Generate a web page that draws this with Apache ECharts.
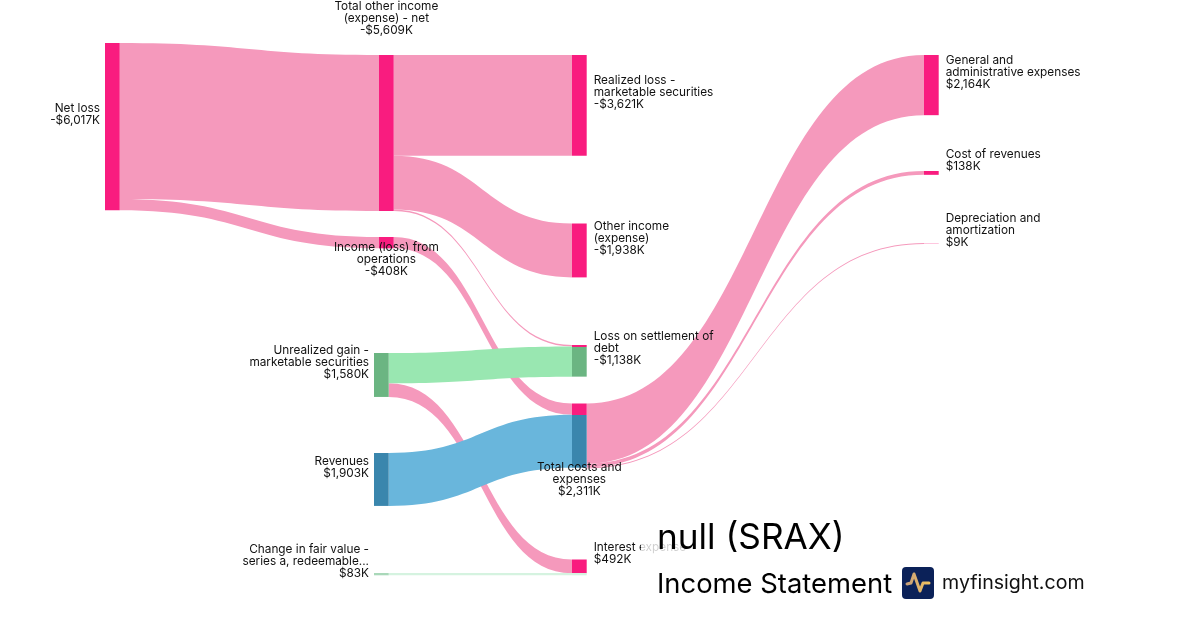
<!DOCTYPE html>
<html>
<head>
<meta charset="utf-8">
<title>SRAX income statement</title>
<style>html,body{margin:0;padding:0;background:#fff}#chart{width:1200px;height:630px}</style>
<script src="https://cdn.jsdelivr.net/npm/echarts@6/dist/echarts.min.js"></script>
</head>
<body>
<div id="chart"></div>
<script>
// nodes, listed top to bottom inside each column so the links stack in the right order
const NODE_NAMES = [
  'Net loss',
  'Total other income (expense) - net', 'Income (loss) from operations',
  'Unrealized gain - marketable securities', 'Revenues', 'Change in fair value - series a, redeemable...',
  'Realized loss - marketable securities', 'Other income (expense)', 'Loss on settlement of debt',
  'Total costs and expenses', 'Interest expense', 'Change in fair value sink',
  'General and administrative expenses', 'Cost of revenues', 'Depreciation and amortization',
];
const NODE_TEXT = [
  'Net loss\n-$6,017K',
  'Total other income\n(expense) - net\n-$5,609K', 'Income (loss) from\noperations\n-$408K',
  'Unrealized gain -\nmarketable securities\n$1,580K', 'Revenues\n$1,903K', 'Change in fair value -\nseries a, redeemable...\n$83K',
  'Realized loss -\nmarketable securities\n-$3,621K', 'Other income\n(expense)\n-$1,938K', 'Loss on settlement of\ndebt\n-$1,138K',
  'Total costs and\nexpenses\n$2,311K', 'Interest expense\n$492K', '',
  'General and\nadministrative expenses\n$2,164K', 'Cost of revenues\n$138K', 'Depreciation and\namortization\n$9K',
];
const NODE_DEPTH = [0, 1, 1, 1, 1, 1, 2, 2, 2, 2, 2, 2, 3, 3, 3];

// pink links first: the green and blue ones are painted over them
const LINK_SOURCE = [0, 0, 1, 1, 1, 2, 3, 9, 9, 9, 3, 4, 5];
const LINK_TARGET = [1, 2, 6, 7, 8, 9, 10, 12, 13, 14, 8, 9, 11];
const LINK_VALUE = [5609, 408, 3621, 1938, 50, 408, 492, 2164, 138, 9, 1088, 1903, 83];
const LINK_KIND = ['loss', 'loss', 'loss', 'loss', 'loss', 'loss', 'loss', 'loss', 'loss', 'loss', 'gain', 'rev', 'fair'];

// manual placement of the columns and rows in the picture, in px
const NODE_LEFT = [105, 379, 379, 374, 374, 374, 572, 572, 572, 572, 572, 572, 924, 924, 924];
const NODE_TOP = [43, 55, 237, 353, 453, 573, 55, 223.5, 345, 403.5, 559.5, 573, 55, 171, 243];
const W = 1200, H = 630;

const LINK_COLOR = { loss: '#f599bc', gain: '#99e7b1', rev: '#69b6dc', fair: '#d5f3e0' };
const PINK = '#f91c7f', GREEN = '#6bb582', BLUE = '#3a86ad';

// two sharp stops: the part fed by the loss link on top, the rest below
function split(share, c1, c2) {
  return new echarts.graphic.LinearGradient(0, 0, 0, 1, [
    { offset: 0, color: c1 }, { offset: share, color: c1 },
    { offset: share, color: c2 }, { offset: 1, color: c2 },
  ]);
}
const NODE_COLOR = [
  PINK, PINK, PINK, GREEN, BLUE, '#a9d8b9',
  PINK, PINK, split(0.06, PINK, GREEN), split(0.18, PINK, BLUE), PINK, '#d5f3e0',
  PINK, PINK, PINK,
];

const labelFont = { fontFamily: 'Inter', fontSize: 11.8, lineHeight: 12, color: '#111' };
const LEFT_LABEL = { position: 'left', distance: 5, align: 'right', offset: [0, -12.5] };
const RIGHT_LABEL = { position: 'right', distance: 7, align: 'left', offset: [0, -12.5] };
const NODE_LABEL = [
  LEFT_LABEL,
  { position: 'top', distance: 19, align: 'center' }, { position: 'bottom', distance: 0, align: 'center', offset: [0, -7] },
  LEFT_LABEL, LEFT_LABEL, LEFT_LABEL,
  RIGHT_LABEL, RIGHT_LABEL, RIGHT_LABEL,
  { position: 'bottom', distance: 0, align: 'center', offset: [0, -6.5] }, RIGHT_LABEL, { show: false },
  RIGHT_LABEL, RIGHT_LABEL, RIGHT_LABEL,
];

const chart = echarts.init(document.getElementById('chart'), null, { renderer: 'canvas' });
chart.setOption({
  animation: false,
  backgroundColor: '#fff',
  series: [{
    type: 'sankey',
    left: 0, top: 0, right: 0, bottom: 0,
    nodeWidth: 14.7,
    nodeGap: 72.7, // with six nodes in the busiest column this gives about 0.0278 px per $K
    layoutIterations: 0,
    draggable: false,
    emphasis: { disabled: true },
    label: labelFont,
    data: NODE_NAMES.map((name, i) => ({
      name,
      depth: NODE_DEPTH[i],
      localX: NODE_LEFT[i] / W,
      localY: NODE_TOP[i] / H,
      itemStyle: { color: NODE_COLOR[i], borderWidth: 0, opacity: 1 },
      label: { ...NODE_LABEL[i], formatter: NODE_TEXT[i] },
    })),
    links: LINK_SOURCE.map((s, i) => ({
      source: NODE_NAMES[s],
      target: NODE_NAMES[LINK_TARGET[i]],
      value: LINK_VALUE[i],
      lineStyle: { color: LINK_COLOR[LINK_KIND[i]], opacity: 1, curveness: 0.5 },
    })),
  }],
  graphic: [
    { type: 'rect', z: 100, shape: { x: 641, y: 510, width: 460, height: 100 }, style: { fill: 'rgba(255,255,255,0.8)' } },
    { type: 'text', z: 101, x: 657, y: 521, style: { text: 'null (SRAX)', fontFamily: 'Inter', fontSize: 35.2, fill: '#000' } },
    { type: 'text', z: 101, x: 657, y: 571, style: { text: 'Income Statement', fontFamily: 'Inter', fontSize: 27.4, fill: '#000' } },
    { type: 'rect', z: 101, shape: { x: 902, y: 567, width: 32, height: 32, r: 4 }, style: { fill: '#0b2158' } },
    { type: 'polyline', z: 102, shape: { points: [[907, 584], [911, 583], [914, 574], [920, 591], [923, 583], [929, 583]] },
      style: { fill: 'none', lineWidth: 3, lineCap: 'round', lineJoin: 'round',
        stroke: new echarts.graphic.LinearGradient(0, 0, 1, 0, [{ offset: 0, color: '#c39c7c' }, { offset: 1, color: '#f6c65c' }]) } },
    { type: 'text', z: 101, x: 942, y: 573, style: { text: 'myfinsight.com', fontFamily: 'Inter', fontSize: 19.6, fill: '#111' } },
  ],
});
</script>
</body>
</html>
